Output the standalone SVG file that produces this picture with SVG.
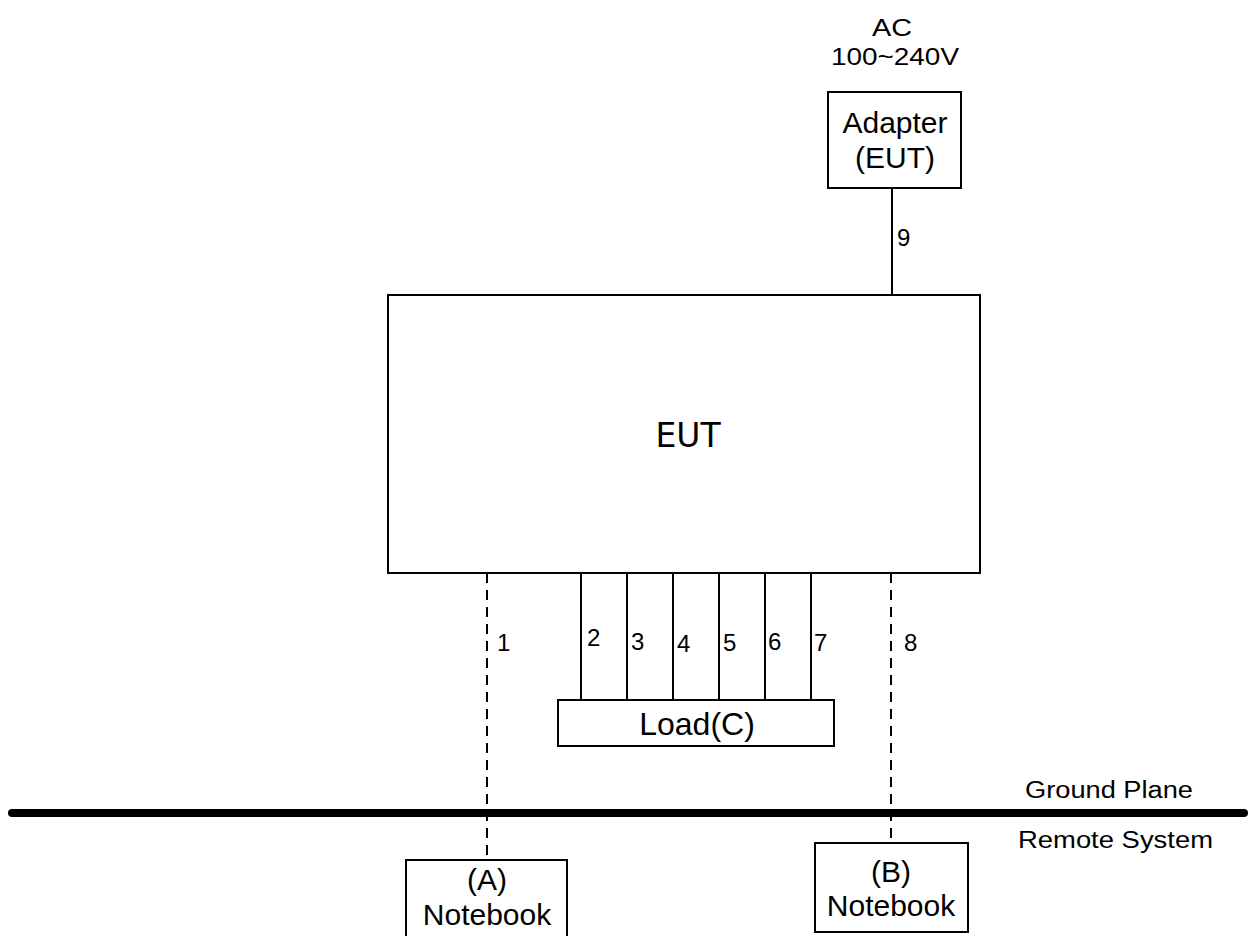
<svg xmlns="http://www.w3.org/2000/svg" width="1250" height="936" viewBox="0 0 1250 936">
<style>
.box{fill:#fff;stroke:#000;stroke-width:2}
.ln{stroke:#000;stroke-width:2;fill:none}
.dash{stroke:#000;stroke-width:2;fill:none;stroke-dasharray:10,7}
text{font-family:"Liberation Sans",Arial,sans-serif;fill:#000}
.t30{font-size:30px;text-anchor:middle}
.num{font-size:24px}
.lbl{font-size:23px}
</style>
<rect width="1250" height="936" fill="#fff"/>
<g id="connectors">
<line class="ln" x1="892" y1="188" x2="892" y2="295"/>
<line class="dash" x1="487" y1="573" x2="487" y2="860"/>
<line class="ln" x1="581" y1="571" x2="581" y2="702"/>
<line class="ln" x1="627" y1="571" x2="627" y2="702"/>
<line class="ln" x1="673" y1="571" x2="673" y2="702"/>
<line class="ln" x1="719" y1="571" x2="719" y2="702"/>
<line class="ln" x1="765" y1="571" x2="765" y2="702"/>
<line class="ln" x1="811" y1="571" x2="811" y2="702"/>
<line class="dash" x1="891" y1="573" x2="891" y2="843"/>
<text class="num" x="897" y="246">9</text>
<text class="num" x="497" y="651">1</text>
<text class="num" x="587" y="646">2</text>
<text class="num" x="631" y="650">3</text>
<text class="num" x="677" y="652">4</text>
<text class="num" x="723" y="651">5</text>
<text class="num" x="768" y="650">6</text>
<text class="num" x="814" y="651">7</text>
<text class="num" x="904" y="651">8</text>
</g>
<g id="ground">
<line x1="12" y1="813" x2="1244" y2="813" stroke="#000" stroke-width="8" stroke-linecap="round"/>
<text class="lbl" x="1025" y="798" textLength="168" lengthAdjust="spacingAndGlyphs">Ground Plane</text>
<text class="lbl" x="1018" y="848" textLength="195" lengthAdjust="spacingAndGlyphs">Remote System</text>
</g>
<g id="ac">
<text class="lbl" x="872" y="36" textLength="40" lengthAdjust="spacingAndGlyphs">AC</text>
<text class="lbl" x="831" y="65" textLength="128" lengthAdjust="spacingAndGlyphs">100~240V</text>
</g>
<g id="adapter">
<rect class="box" x="828" y="92" width="133" height="96"/>
<text class="t30" x="895" y="133">Adapter</text>
<text class="t30" x="895" y="168">(EUT)</text>
</g>
<g id="eut">
<rect class="box" x="388" y="295" width="592" height="278"/>
<text x="688" y="447" text-anchor="middle" style="font-family:'DejaVu Sans',sans-serif;font-size:33px">EUT</text>
</g>
<g id="load">
<rect class="box" x="558" y="700" width="276" height="46"/>
<text x="697" y="735" text-anchor="middle" style="font-size:32px">Load(C)</text>
</g>
<g id="notebookA">
<rect class="box" x="406" y="860" width="161" height="90"/>
<text class="t30" x="487" y="890">(A)</text>
<text class="t30" x="487" y="925">Notebook</text>
</g>
<g id="notebookB">
<rect class="box" x="815" y="843" width="153" height="89"/>
<text class="t30" x="891" y="882">(B)</text>
<text class="t30" x="891" y="916">Notebook</text>
</g>
</svg>
